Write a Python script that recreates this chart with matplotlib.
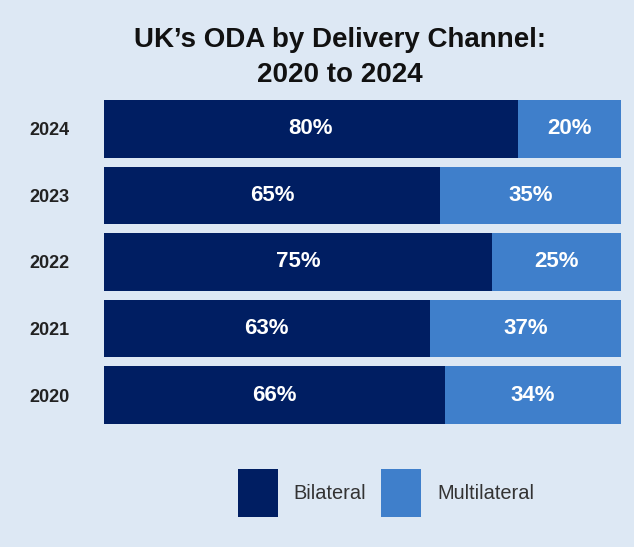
import numpy as np
import matplotlib.pyplot as plt
from matplotlib.patches import Patch

plt.rcParams['font.family'] = ['Liberation Sans', 'DejaVu Sans']

years = ['2020', '2021', '2022', '2023', '2024']
bilateral = [66, 63, 75, 65, 80]
multilateral = [34, 37, 25, 35, 20]

navy = '#001e62'
light = '#3f7fcb'
bg = '#dde8f4'

fig = plt.figure(figsize=(6.34, 5.47), dpi=100, facecolor=bg)
ax = fig.add_axes([0.164, 0.2249, 0.8155, 0.5923])
ax.set_facecolor(bg)

y = np.arange(len(years))
h = 0.87
ax.barh(y, bilateral, height=h, color=navy, label='Bilateral')
ax.barh(y, multilateral, left=bilateral, height=h, color=light, label='Multilateral')

for i in range(len(years)):
    b = bilateral[i]
    m = multilateral[i]
    ax.text(b / 2, y[i], f'{b}%', color='white', fontsize=16, fontweight='bold',
            ha='center', va='center')
    ax.text(b + m / 2, y[i], f'{m}%', color='white', fontsize=16, fontweight='bold',
            ha='center', va='center')

ax.set_xlim(0, 100)
ax.set_ylim(-h / 2, len(years) - 1 + h / 2)
ax.set_yticks(y)
ax.set_yticklabels(years, fontsize=13, fontweight='bold', color='#222222')
ax.tick_params(axis='y', length=0, pad=24.5)
ax.set_xticks([])
for s in ax.spines.values():
    s.set_visible(False)

fig.text(0.536, 1 - 57.5 / 547, "UK\u2019s ODA by Delivery Channel:\n2020 to 2024", ha='center',
         va='center', fontsize=20, fontweight='bold', color='#111111', linespacing=1.42)

handles = [Patch(facecolor=navy, label='Bilateral'), Patch(facecolor=light, label='Multilateral')]
leg = fig.legend(handles=handles, loc='center', bbox_to_anchor=(386 / 634, 1 - 493 / 547),
                 ncol=2, frameon=False, fontsize=14.4, handlelength=2.0, handleheight=3.3,
                 handletextpad=0.8, columnspacing=0.75)
for t in leg.get_texts():
    t.set_color('#333333')

fig.savefig('out.png', dpi=100, facecolor=bg)
